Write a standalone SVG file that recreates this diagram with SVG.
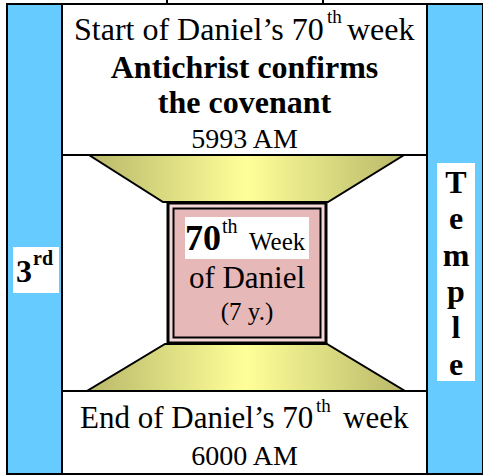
<svg xmlns="http://www.w3.org/2000/svg" width="483" height="476" viewBox="0 0 483 476">
<style>
.t{font-family:"Liberation Serif","Times New Roman",serif;fill:#000}
.b{font-weight:bold}
.box{fill:#fff;stroke:#000;stroke-width:2}
.blue{fill:#66CCFF;stroke:#000;stroke-width:2}
.wl{fill:#fff}
.trap{fill:url(#yg);stroke:#000;stroke-width:2;stroke-linejoin:miter}
</style>
<defs>
<linearGradient id="yg" x1="0" y1="0" x2="1" y2="0">
<stop offset="0" stop-color="#B8B86A"/>
<stop offset="0.5" stop-color="#FFFF99"/>
<stop offset="1" stop-color="#B8B86A"/>
</linearGradient>
</defs>
<rect width="483" height="476" fill="#fff"/>
<g id="top-stub"><rect x="167" y="-20" width="156" height="24" class="box"/></g>
<g id="frame"><rect x="7" y="4" width="476" height="470" class="blue"/>
<rect x="62" y="4" width="365" height="470" class="box"/></g>
<g id="label-3rd">
<rect x="13" y="247" width="46" height="46" class="wl"/>
<text class="t b" x="16" y="282" font-size="32">3</text>
<text class="t b" x="33" y="265" font-size="20">rd</text>
</g>
<g id="label-temple">
<rect x="437" y="163" width="38" height="218" class="wl"/>
<g class="t b" font-size="32" text-anchor="middle">
<text x="456" y="193">T</text>
<text x="456" y="229">e</text>
<text x="456" y="266">m</text>
<text x="456" y="302">p</text>
<text x="456" y="338">l</text>
<text x="456" y="375">e</text>
</g>
</g>
<g id="start-node">
<rect x="62" y="4" width="365" height="151" class="box"/>
<text class="t" x="74" y="40" font-size="32">Start of Daniel’s 70</text>
<text class="t" x="327" y="23" font-size="19">th</text>
<text class="t" x="347" y="40" font-size="32">week</text>
<text class="t b" x="244.5" y="78" font-size="32" text-anchor="middle">Antichrist confirms</text>
<text class="t b" x="244.5" y="113" font-size="32" text-anchor="middle">the covenant</text>
<text class="t" x="244.5" y="148" font-size="28" text-anchor="middle">5993 AM</text>
</g>
<g id="end-node">
<rect x="62" y="391" width="365" height="83" class="box"/>
<text class="t" x="80" y="428" font-size="31">End of Daniel’s 70</text>
<text class="t" x="316" y="412" font-size="19">th</text>
<text class="t" x="343" y="428" font-size="31">week</text>
<text class="t" x="244.5" y="465" font-size="28" text-anchor="middle">6000 AM</text>
</g>
<g id="connectors">
<polygon class="trap" points="89,155 404,155 328,202 163,202"/>
<polygon class="trap" points="165,344 327,344 405,391 87,391"/>
</g>
<g id="week-node">
<rect x="168" y="203" width="158" height="140" fill="#F4D8D8" stroke="#000" stroke-width="3"/>
<rect x="173.5" y="208.5" width="147" height="129" fill="#E6B8B8" stroke="#000" stroke-width="2"/>
<rect x="185" y="217" width="124" height="42" class="wl"/>
<text class="t b" x="185" y="250" font-size="36">70</text>
<text class="t" x="222" y="233" font-size="20">th</text>
<text class="t" x="249" y="250" font-size="25">Week</text>
<text class="t" x="247" y="288" font-size="31" text-anchor="middle">of Daniel</text>
<text class="t" x="247" y="320" font-size="25" text-anchor="middle">(7 y.)</text>
</g>
</svg>
